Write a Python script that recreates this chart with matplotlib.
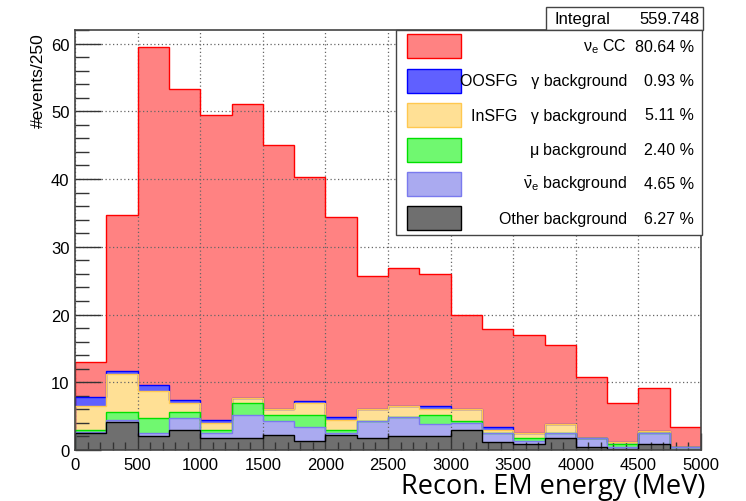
import numpy as np
import matplotlib
matplotlib.use("Agg")
import matplotlib.pyplot as plt
from matplotlib.patches import Rectangle
from matplotlib.ticker import MultipleLocator

plt.rcParams['font.family'] = ['Liberation Sans', 'DejaVu Sans']
plt.rcParams['mathtext.fontset'] = 'custom'
plt.rcParams['mathtext.rm'] = 'Liberation Sans'
plt.rcParams['mathtext.it'] = 'Liberation Sans'
plt.rcParams['mathtext.bf'] = 'Liberation Sans:bold'

# 20 bins of 250 MeV
edges = np.arange(0, 5001, 250)

# events per bin for each sample, bottom of the stack first
other = [2.5, 4.2, 2.1, 2.9, 1.8, 1.8, 2.2, 1.4, 2.2, 1.8, 2.1, 2.1, 2.95, 1.2, 0.9, 1.7, 0.4, 0.15, 0.85, 0.0]
nuebar = [0.2, 0.2, 0.4, 1.8, 0.7, 3.35, 2.15, 2.05, 0.3, 2.55, 2.7, 1.7, 1.0, 1.35, 0.4, 0.8, 1.35, 0.3, 1.65, 0.4]
numu = [0.3, 1.2, 2.2, 0.85, 0.5, 1.75, 0.85, 1.7, 0.45, 0, 0, 1.35, 0.4, 0, 0.4, 0, 0, 0.45, 0, 0]
insfg = [3.5, 5.6, 4.0, 1.35, 1.0, 0.85, 0.85, 1.75, 1.5, 1.7, 1.65, 0.95, 1.65, 0.45, 0.85, 1.35, 0, 0.35, 0.35, 0]
oosfg = [1.3, 0.4, 0.9, 0.45, 0.5, 0, 0, 0.4, 0.4, 0, 0, 0.4, 0, 0.4, 0, 0, 0, 0, 0, 0]
nue_cc = [5.2, 23.1, 49.85, 45.9, 44.95, 43.4, 39.0, 33.0, 29.6, 19.6, 20.35, 19.5, 13.9, 14.4, 14.4, 11.65, 9.0, 5.65, 6.25, 2.95]

# legend rows, top to bottom
labels = [r'$\nu_{e}$ CC', u'OOSFG   \u03b3 background', u'InSFG   \u03b3 background',
          r'$\mu$ background', r'$\bar{\nu}_{e}$ background', 'Other background']
fractions = ['80.64 %', '0.93 %', '5.11 %', '2.40 %', '4.65 %', '6.27 %']
integral = '559.748'

stack = [other, nuebar, numu, insfg, oosfg, nue_cc]  # bottom -> top
fills = ['#6f6f6f', '#aaaaf0', '#70f870', '#ffe095', '#6060ff', '#ff8282']
lines = ['#000000', '#7a7aee', '#00e000', '#ffc850', '#0000ff', '#ff0000']

W, H = 746, 502
fig = plt.figure(figsize=(W / 100, H / 100), dpi=100)
ax = fig.add_axes([75 / W, 1 - 451 / H, (701 - 75) / W, (451 - 31) / H])

cum = np.cumsum(np.array(stack, dtype=float), axis=0)
# draw like a THStack: each cumulative histogram filled from zero, biggest first
for i in range(len(stack) - 1, -1, -1):
    ax.stairs(cum[i], edges, baseline=0, fill=True, color=fills[i], zorder=2)
    ax.stairs(cum[i], edges, baseline=0, fill=False, color=lines[i], lw=1.0, zorder=3)

ax.set_xlim(0, 5000)
ax.set_ylim(0, 62.0)
ax.xaxis.set_major_locator(MultipleLocator(500))
ax.xaxis.set_minor_locator(MultipleLocator(100))
ax.yaxis.set_major_locator(MultipleLocator(10))
ax.yaxis.set_minor_locator(MultipleLocator(2))
ax.tick_params(which='both', direction='in', top=False, right=False, labelsize=12, color='#333333')
ax.tick_params(axis='y', which='major', length=19, width=1.0, pad=4)
ax.tick_params(axis='y', which='minor', length=10, width=1.0)
ax.tick_params(axis='x', which='major', length=12, width=1.0, pad=5)
ax.tick_params(axis='x', which='minor', length=6, width=1.0)
ax.grid(True, which='major', color='#666666', ls=(0, (1, 2)), lw=0.9, zorder=5)
ax.set_axisbelow(False)
for s in ax.spines.values():
    s.set_color('#444444')
    s.set_linewidth(1.2)
    s.set_zorder(6)

fig.text(38 / W, 1 - 33 / H, '#events/250', rotation=90, ha='center', va='top', fontsize=12.5)
fig.text(705 / W, 1 - 487 / H, 'Recon. EM energy (MeV)', ha='right', va='center',
         fontsize=19.5, family='Open Sans')

def fx(x):
    return x / W

def fy(y):
    return 1 - y / H

# integral box
fig.add_artist(Rectangle((fx(546), fy(31)), (703 - 546) / W, (31 - 8) / H,
                         facecolor='white', edgecolor='#444444', lw=1.0, zorder=10))
fig.text(fx(555), fy(19.5), 'Integral', ha='left', va='center', fontsize=12, zorder=11)
fig.text(fx(700), fy(19.5), integral, ha='right', va='center', fontsize=12, zorder=11)

# legend box
fig.add_artist(Rectangle((fx(396), fy(236)), (702 - 396) / W, (236 - 31) / H,
                         facecolor='white', edgecolor='#444444', lw=1.0, zorder=10))
rows = [47, 81.8, 116, 150.5, 184.8, 219.3]
for k, y in enumerate(rows):
    i = len(stack) - 1 - k
    fig.add_artist(Rectangle((fx(407), fy(y + 12)), 54 / W, 24 / H,
                             facecolor=fills[i], edgecolor=lines[i], lw=1.0, zorder=11))
    fig.text(fx(627), fy(y), labels[k], ha='right', va='center', fontsize=11.5, zorder=12)
    fig.text(fx(694), fy(y), fractions[k], ha='right', va='center', fontsize=11.5, zorder=12)

fig.savefig('out.png', dpi=100)
